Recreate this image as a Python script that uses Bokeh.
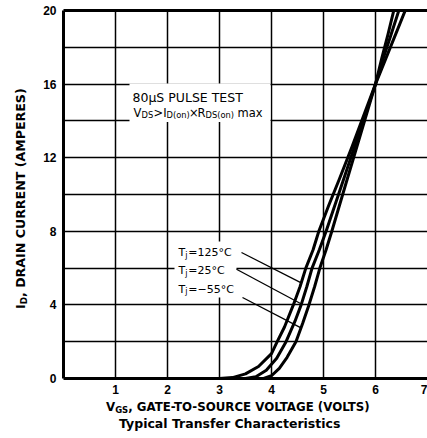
import numpy as np
from bokeh.plotting import figure
from bokeh.models import Label, FixedTicker, LinearAxis, BoxAnnotation, Div
from bokeh.layouts import column, row
from bokeh.embed import file_html
from bokeh.resources import INLINE

# ---------------- data ----------------
VGS_125 = [3.00, 3.25, 3.50, 3.75, 4.00, 4.11, 4.25, 4.42, 4.55, 4.66, 4.80, 4.91,
           5.10, 5.30, 5.55, 5.80, 6.00, 6.20, 6.40, 6.60]
ID_125 = [0.0, 0.05, 0.25, 0.65, 1.35, 2.0, 2.8, 4.0, 5.0, 6.0, 7.0, 8.0,
          9.4, 10.8, 12.6, 14.5, 16.0, 17.4, 18.8, 20.2]

VGS_25 = [3.50, 3.70, 3.90, 4.10, 4.28, 4.45, 4.57, 4.68, 4.78, 4.92, 5.05,
          5.30, 5.55, 5.80, 6.00, 6.15, 6.30, 6.46]
ID_25 = [0.0, 0.1, 0.45, 1.1, 2.0, 3.1, 4.0, 5.0, 6.0, 7.0, 8.0,
         10.1, 12.2, 14.3, 16.0, 17.4, 18.7, 20.1]

VGS_M55 = [3.85, 4.00, 4.15, 4.30, 4.47, 4.60, 4.72, 4.83, 4.93, 5.05, 5.16,
           5.40, 5.60, 5.80, 6.00, 6.12, 6.24, 6.36]
ID_M55 = [0.0, 0.15, 0.55, 1.15, 2.0, 3.0, 4.0, 5.0, 6.0, 7.0, 8.0,
          10.3, 12.2, 14.1, 16.0, 17.4, 18.7, 20.1]

TEMP_TEXT = ["=125°C", "=25°C", "=−55°C"]
LEADER_ID = [5.2, 4.05, 2.75]          # current where each leader line meets its curve

X_TICKS = [1, 2, 3, 4, 5, 6, 7]
Y_TICKS = [0, 4, 8, 12, 16, 20]
X_GRID = [1, 2, 3, 4, 5, 6]
Y_GRID = [2, 4, 6, 8, 10, 12, 14, 16, 18]
X_MAX, Y_MAX = 7, 20

X_TITLE_MAIN, X_TITLE_SUB, X_TITLE_REST = "V", "GS", ", GATE-TO-SOURCE VOLTAGE (VOLTS)"
Y_TITLE_MAIN, Y_TITLE_SUB, Y_TITLE_REST = "I", "D", ", DRAIN CURRENT (AMPERES)"
CAPTION = "Typical Transfer Characteristics"

# ---------------- layout (page pixels) ----------------
YDIV_W = 40
W, H = 427 - YDIV_W, 400
BL, BR, BT, BB = 23, 0, 10, 22
FL, FR = YDIV_W + BL, YDIV_W + W - BR
FT, FB = BT, H - BB


def dx(px):
    return (px - FL) / (FR - FL) * X_MAX


def dy(py):
    return (FB - py) / (FB - FT) * Y_MAX


p = figure(width=W, height=H, x_range=(0, X_MAX), y_range=(0, Y_MAX),
           output_backend="svg", toolbar_location=None,
           min_border_left=BL, min_border_right=BR,
           min_border_top=BT, min_border_bottom=BB, margin=(0, 0, 0, 0))
p.outline_line_color = None
p.background_fill_color = "white"
p.border_fill_color = "white"

for ax, ticks in ((p.xaxis[0], X_TICKS), (p.yaxis[0], Y_TICKS)):
    ax.ticker = FixedTicker(ticks=ticks)
    ax.major_tick_out = 0
    ax.major_tick_in = 0
    ax.minor_tick_out = 0
    ax.minor_tick_in = 0
    ax.axis_line_width = 3
    ax.axis_line_color = "black"
    ax.major_label_text_font = "Liberation Sans"
    ax.major_label_text_font_style = "bold"
    ax.major_label_text_font_size = "12px"
    ax.major_label_text_color = "black"
p.xaxis.major_label_standoff = 6
p.yaxis.major_label_standoff = 7

top = LinearAxis(ticker=FixedTicker(ticks=[]), axis_line_width=3, axis_line_color="black",
                 major_tick_out=0, major_tick_in=0, minor_tick_out=0, minor_tick_in=0,
                 major_label_standoff=0, major_label_text_font_size="0px",
                 axis_label_standoff=0)
p.add_layout(top, "above")

p.xgrid.ticker = FixedTicker(ticks=X_GRID)
p.ygrid.ticker = FixedTicker(ticks=Y_GRID)
for g in (p.xgrid[0], p.ygrid[0]):
    g.grid_line_color = "black"
    g.grid_line_width = 1.5
    g.grid_line_alpha = 1.0

# white boxes behind the inner texts
p.add_layout(BoxAnnotation(left=dx(129), right=dx(270), top=dy(83), bottom=dy(121.5),
                           fill_color="white", fill_alpha=1, line_color=None, level="underlay"))
p.add_layout(BoxAnnotation(left=dx(174), right=dx(236), top=dy(241), bottom=dy(297),
                           fill_color="white", fill_alpha=1, line_color=None, level="underlay"))

curves = [(VGS_125, ID_125), (VGS_25, ID_25), (VGS_M55, ID_M55)]
for v, i in curves:
    p.line(v, i, line_width=3, line_color="black", line_join="round", line_cap="round")

starts = [(241, 252), (236, 268.7), (242, 297)]
x0, y0, x1, y1 = [], [], [], []
for (sx, sy), (v, i), lid in zip(starts, curves, LEADER_ID):
    x0.append(dx(sx)); y0.append(dy(sy))
    x1.append(float(np.interp(lid, i, v))); y1.append(lid)
p.segment(x0, y0, x1, y1, line_color="black", line_width=1.3)


def lab(px, py, text, size, style="normal", font="DejaVu Sans"):
    p.add_layout(Label(x=dx(px), y=dy(py), x_units="data", y_units="data", text=text,
                       text_font=font, text_font_size=f"{size}px", text_font_style=style,
                       text_color="black", text_baseline="alphabetic", text_align="left"))


lab(132, 96.5, "80μS PULSE TEST", 12.5)
lab(133, 112.3, "V", 11.5)
lab(141, 114.5, "DS", 8.3)
lab(153, 112.3, ">", 11.5)
lab(162.7, 112.3, "I", 11.5)
lab(166, 114.5, "D(on)", 8.3)
lab(188.5, 112.3, "×", 11.5)
lab(197, 112.3, "R", 11.5)
lab(205, 114.5, "DS(on)", 8.3)
lab(237, 112.3, "max", 11.5)

for base, txt in zip([252.3, 270.3, 288.7], TEMP_TEXT):
    lab(178, base, "T", 11)
    lab(184.7, base + 2.2, "j", 8)
    lab(187.8, base, txt, 11)

# ---------------- texts outside the frame (HTML) ----------------
FONT = "font-family:'DejaVu Sans';font-weight:bold;color:#000;"

ydiv = Div(width=YDIV_W, height=H, margin=(0, 0, 0, 0), text=(
    f'<div style="position:relative;width:{YDIV_W}px;height:{H}px;{FONT}">'
    f'<span style="position:absolute;left:15px;top:309px;transform-origin:0 0;'
    f'transform:rotate(-90deg);white-space:nowrap;font-size:12.6px;line-height:1;">'
    f'{Y_TITLE_MAIN}<span style="font-size:8.8px;position:relative;top:2.4px;">{Y_TITLE_SUB}</span>'
    f'{Y_TITLE_REST}</span></div>'))

xdiv = Div(width=427, height=18, margin=(0, 0, 0, 0), text=(
    f'<div style="position:relative;width:427px;height:18px;{FONT}">'
    f'<span style="position:absolute;left:106px;top:2px;white-space:nowrap;'
    f'font-size:11.8px;line-height:1;">'
    f'{X_TITLE_MAIN}<span style="font-size:8.5px;position:relative;top:2.3px;">{X_TITLE_SUB}</span>'
    f'{X_TITLE_REST}</span></div>'))

capdiv = Div(width=427, height=20, margin=(0, 0, 0, 0), text=(
    f'<div style="position:relative;width:427px;height:20px;{FONT}">'
    f'<span style="position:absolute;left:119px;top:0px;white-space:nowrap;'
    f'font-size:12.5px;line-height:1;">{CAPTION}</span></div>'))

layout = column(row(ydiv, p, spacing=0, margin=(0, 0, 0, 0)), xdiv, capdiv,
                spacing=0, margin=(0, 0, 0, 0))

open("out.html", "w").write(file_html(layout, INLINE))
